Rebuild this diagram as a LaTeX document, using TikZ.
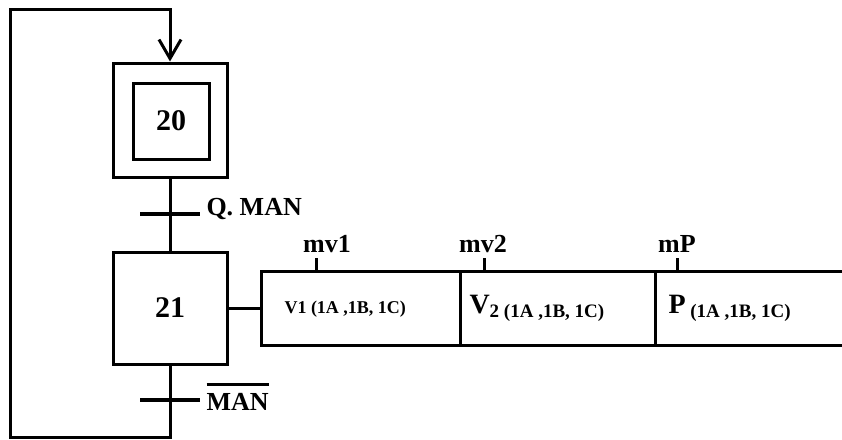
\documentclass[tikz,border=0pt]{standalone}
\usepackage{fontspec}
\setmainfont{Liberation Serif}
\usetikzlibrary{positioning, arrows.meta}
\newcommand\barred[1]{\leavevmode\vbox{\hrule height 3pt\kern 7pt\hbox{#1}}}
\newcommand\lowsub[1]{\raisebox{-4pt}{\fontsize{19}{22}\selectfont #1}}

\begin{document}
\begin{tikzpicture}[
  x=1pt, y=-1pt,
  line width=3pt,
  font=\bfseries,
  stepbox/.style={draw, minimum width=114pt, minimum height=112pt, inner sep=0pt,
    font=\bfseries\fontsize{30}{34}\selectfont},
  trans/.style={fill=black, minimum width=60pt, minimum height=3.5pt, inner sep=0pt},
  cond/.style={anchor=base west, inner sep=0pt, font=\bfseries\fontsize{26}{30}\selectfont},
  action/.style={draw, minimum height=74pt, inner sep=0pt},
  acttext/.style={anchor=base west, inner sep=0pt, font=\bfseries\fontsize{18}{22}\selectfont},
  bigact/.style={anchor=base west, inner sep=0pt, font=\bfseries\fontsize{28}{32}\selectfont},
  sensor/.style={anchor=base, inner sep=0pt, font=\bfseries\fontsize{26}{30}\selectfont},
]
  \useasboundingbox (0,0) rectangle (842,439);

  % steps
  \node[stepbox, minimum height=114pt] (s20)   at (170,120) {};
  \node[stepbox, minimum width=76pt, minimum height=76pt] (s20in) at (171,121) {20};
  \node[stepbox] (s21) at (170,308) {21};

  % transitions
  \draw (s20.south) -- (s21.north);
  \node[trans] (t1) at (170,214) {};
  \node[cond]  (c1) at (205,215) {Q. MAN};
  \node[trans] (t2) at (170,400) {};
  \node[cond]  (c2) at (205,410) {\barred{MAN}};

  % loop back to the initial step
  \coordinate (sw) at (10,437);
  \coordinate (nw) at (10,9);
  \draw[-{Straight Barb[length=19pt, width=22pt]}]
    (s21.south) |- (sw) -- (nw) -| (s20.north);

  % actions of step 21
  \node[action, minimum width=199pt] (a1) at (360.5,308) {};
  \node[action, minimum width=195pt] (a2) at (557.5,308) {};
  \node[minimum width=200pt, minimum height=74pt, inner sep=0pt, outer sep=0pt] (a3) at (755,308) {};
  \draw (a3.north east) -- (a3.north west) -- (a3.south west) -- (a3.south east);
  \draw (s21.east) -- (a1.west);

  \node[acttext] (v1) at (283,313) {V1 (1A ,1B, 1C)};
  \node[bigact]  (v2) at (468,313) {V\lowsub{2 (1A ,1B, 1C)}};
  \node[bigact]  (p)  at (667,313) {P\lowsub{ (1A ,1B, 1C)}};

  % sensors
  \coordinate (m1) at (316,258);
  \coordinate (m2) at (484,258);
  \coordinate (m3) at (677,258);
  \draw (m1) -- (m1 |- a1.north);
  \draw (m2) -- (m2 |- a2.north);
  \draw (m3) -- (m3 |- a3.north);
  \node[sensor] (l1) at (327,252) {mv1};
  \node[sensor] (l2) at (483,252) {mv2};
  \node[sensor] (l3) at (677,252) {mP};
\end{tikzpicture}
\end{document}
